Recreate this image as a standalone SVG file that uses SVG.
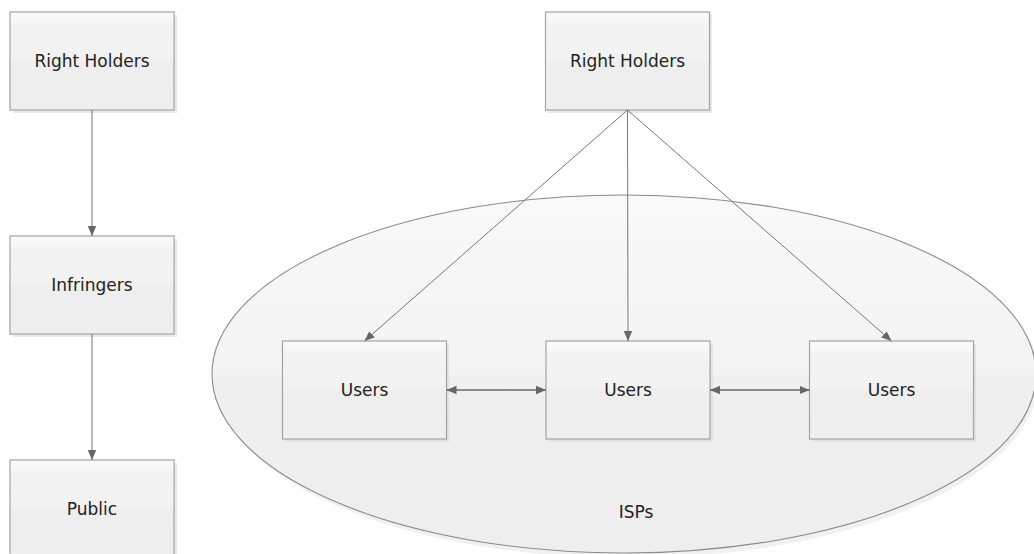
<svg xmlns="http://www.w3.org/2000/svg" width="1034" height="554" viewBox="0 0 1034 554">
<defs>
<linearGradient id="boxg" x1="0" y1="0" x2="0" y2="1">
<stop offset="0" stop-color="#fafafa"/>
<stop offset="0.1" stop-color="#f7f7f7"/>
<stop offset="0.11" stop-color="#f3f3f3"/>
<stop offset="0.5" stop-color="#f2f2f2"/>
<stop offset="0.51" stop-color="#eeeeee"/>
<stop offset="1" stop-color="#efefef"/>
</linearGradient>
<linearGradient id="ellg" x1="0" y1="0" x2="0" y2="1">
<stop offset="0" stop-color="#f9f9f9"/>
<stop offset="0.5" stop-color="#f3f3f3"/>
<stop offset="0.51" stop-color="#efefef"/>
<stop offset="1" stop-color="#eeeeee"/>
</linearGradient>
<marker id="ah" viewBox="0 0 10 10" refX="10" refY="5" markerWidth="10" markerHeight="10" markerUnits="userSpaceOnUse" orient="auto-start-reverse">
<path d="M0,0.8 L10,5 L0,9.2 Z" fill="#666"/>
</marker>
</defs>
<style>
.box{fill:url(#boxg);stroke:#a3a3a3;stroke-width:1.2}
.sh{fill:#d8d8d8;opacity:0.6}
.lbl{font-family:"DejaVu Sans","Open Sans",sans-serif;font-size:17px;fill:#222;text-anchor:middle}
.con{stroke:#777;stroke-width:1;fill:none}
.con2{stroke:#6a6a6a;stroke-width:1.6;fill:none}
</style>
<rect width="1034" height="554" fill="#ffffff"/>

<g id="isps">
<ellipse cx="626" cy="376" rx="412" ry="180" fill="#e4e4e4" opacity="0.5" transform="translate(1,2)"/>
<ellipse cx="624" cy="374" rx="412" ry="179" fill="url(#ellg)" stroke="#8a8a8a" stroke-width="1.1"/>
<text class="lbl" x="636" y="518">ISPs</text>
</g>

<g id="rh-left">
<rect class="sh" x="13" y="15" width="164" height="98"/>
<rect class="box" x="10" y="12" width="164" height="98"/>
<text class="lbl" x="92" y="67">Right Holders</text>
</g>
<g id="infringers">
<rect class="sh" x="13" y="239" width="164" height="98"/>
<rect class="box" x="10" y="236" width="164" height="98"/>
<text class="lbl" x="92" y="291">Infringers</text>
</g>
<g id="public">
<rect class="sh" x="13" y="463" width="164" height="98"/>
<rect class="box" x="10" y="460" width="164" height="98"/>
<text class="lbl" x="92" y="515">Public</text>
</g>

<g id="rh-right">
<rect class="sh" x="548" y="15" width="164" height="98"/>
<rect class="box" x="545.5" y="12" width="164" height="98"/>
<text class="lbl" x="627.5" y="67">Right Holders</text>
</g>
<g id="users1">
<rect class="sh" x="285" y="344" width="164" height="98"/>
<rect class="box" x="282.5" y="341" width="164" height="98"/>
<text class="lbl" x="364.5" y="396">Users</text>
</g>
<g id="users2">
<rect class="sh" x="549" y="344" width="164" height="98"/>
<rect class="box" x="546" y="341" width="164" height="98"/>
<text class="lbl" x="628" y="396">Users</text>
</g>
<g id="users3">
<rect class="sh" x="812" y="344" width="164" height="98"/>
<rect class="box" x="809.5" y="341" width="164" height="98"/>
<text class="lbl" x="891.5" y="396">Users</text>
</g>

<g id="connectors">
<line class="con" x1="92" y1="110" x2="92" y2="236" marker-end="url(#ah)"/>
<line class="con" x1="92" y1="334" x2="92" y2="460" marker-end="url(#ah)"/>
<line class="con" x1="627.5" y1="110" x2="364.5" y2="341" marker-end="url(#ah)"/>
<line class="con" x1="627.5" y1="110" x2="628" y2="341" marker-end="url(#ah)"/>
<line class="con" x1="627.5" y1="110" x2="891.5" y2="341" marker-end="url(#ah)"/>
<line class="con2" x1="446.5" y1="390" x2="546" y2="390" marker-start="url(#ah)" marker-end="url(#ah)"/>
<line class="con2" x1="710" y1="390" x2="809.5" y2="390" marker-start="url(#ah)" marker-end="url(#ah)"/>
</g>
</svg>
